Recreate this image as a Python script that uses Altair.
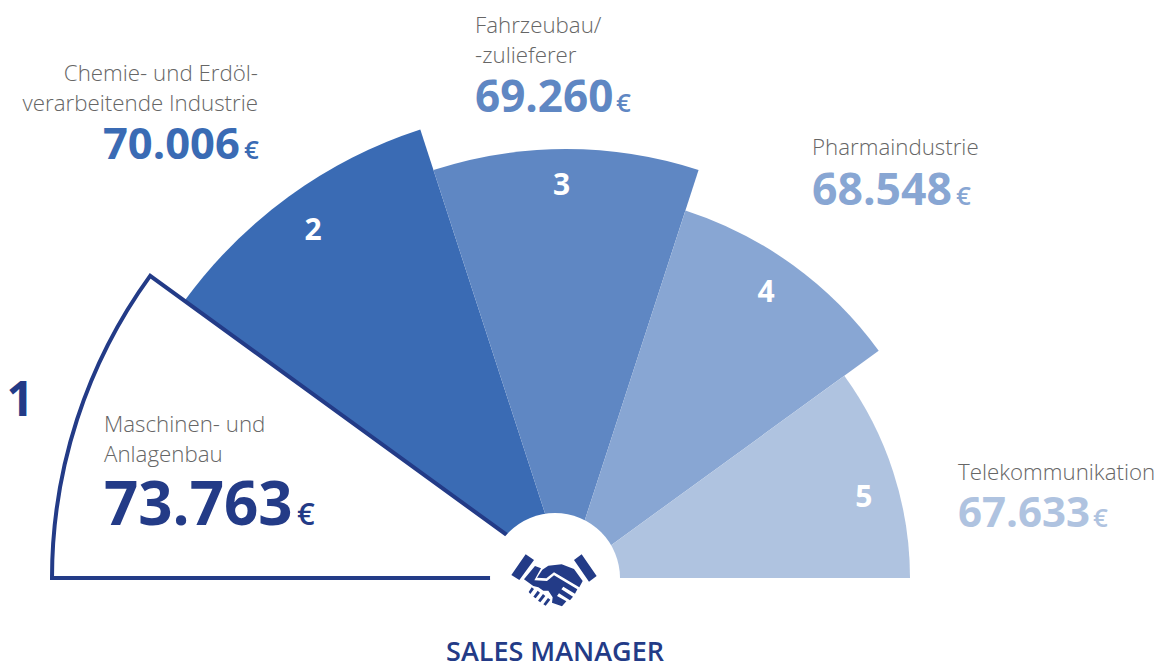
import math
import altair as alt
import pandas as pd

ranks = [1, 2, 3, 4, 5]
values = [73763, 70006, 69260, 68548, 67633]
starts = [-90, -54, -18, 18, 54]
ends = [-54, -18, 18, 54, 90]
names = [["Maschinen- und", "Anlagenbau"],
         ["Chemie- und Erdöl-", "verarbeitende Industrie"],
         ["Fahrzeubau/", "-zulieferer"],
         ["Pharmaindustrie"],
         ["Telekommunikation"]]
footer = "SALES MANAGER"
colors = ["#233b87", "#3a6bb4", "#5f87c3", "#88a6d3", "#afc3e0"]
GRAY = "#666666"
FONT = "Open Sans"

df = pd.DataFrame({"rank": ranks, "value": values, "start": starts, "end": ends})

# page px -> plot px
def px(v):
    return v - 8

CX, CY = px(566), px(578)
theta_scale = alt.Scale(type="linear", domain=[-90, 90], range=[-math.pi / 2, math.pi / 2])
radius_scale = alt.Scale(type="linear", domain=[1, 5], range=[514, 344])
color_scale = alt.Scale(domain=ranks, range=colors)

def arc_enc():
    return dict(
        x=alt.value(CX), y=alt.value(CY),
        theta=alt.Theta("start:Q", scale=theta_scale),
        theta2=alt.Theta2("end:Q"),
        radius=alt.Radius("rank:Q", scale=radius_scale),
        radius2=alt.value(0),
    )

wedges = alt.Chart(df[df["rank"] > 1]).mark_arc().encode(
    fill=alt.Fill("rank:O", scale=color_scale, legend=None), **arc_enc())
first = alt.Chart(df[df["rank"] == 1]).mark_arc(
    fill="white", stroke=colors[0], strokeWidth=4, strokeJoin="miter", strokeMiterLimit=10
).encode(**arc_enc())

disc = alt.Chart(pd.DataFrame({"a": [0]})).mark_arc(
    fill="white", radius=65, radius2=0, theta=0, theta2=2 * math.pi
).encode(x=alt.value(px(555)), y=alt.value(CY))

# icon traced in local units
icon_polys = [
    [(137, 163), (162, 180), (118, 240), (94, 225)],
    [(305, 163), (282, 180), (327, 245), (350, 228)],
    [(205, 197), (245, 193), (282, 207), (308, 243), (298, 262), (222, 217), (199, 235), (171, 233), (187, 209)],
    [(165, 198), (183, 205), (163, 241), (201, 243), (222, 226), (292, 268), (285, 281), (250, 260), (244, 268),
     (279, 290), (270, 301), (237, 280), (231, 288), (259, 304), (246, 319), (216, 308), (218, 292), (205, 272),
     (190, 272), (175, 262), (160, 258), (132, 238)],
    [(155, 262), (146, 276), (151, 282), (162, 267)],
    [(173, 272), (160, 290), (167, 295), (180, 278)],
    [(189, 282), (174, 302), (181, 307), (196, 288)],
    [(204, 294), (190, 313), (197, 317), (211, 299)],
]
ICON_C = (222, 240)
ICON_U = 129
icon_path = " ".join(
    "M" + " L".join(f"{(x - ICON_C[0]) / ICON_U:.3f},{(y - ICON_C[1]) / ICON_U:.3f}" for x, y in poly) + " Z"
    for poly in icon_polys
)
icon = alt.Chart(pd.DataFrame({"a": [0]})).mark_point(
    shape=icon_path, filled=True, fill=colors[0], opacity=1, size=(2 * 43) ** 2
).encode(x=alt.value(px(554)), y=alt.value(px(580)))

def text(s, x, y, size, color, weight="normal", align="left"):
    return alt.Chart(pd.DataFrame({"t": [s]})).mark_text(
        font=FONT, fontSize=size, fontWeight=weight, color=color, align=align, baseline="alphabetic"
    ).encode(x=alt.value(px(x)), y=alt.value(px(y)), text="t:N")

# rank numbers, placed by angle and radius round the fan's centre
num_theta = [-72, -36, -0.8, 34.8, 74.6]
num_radius = [575, 432, 394, 349, 308]
num_size = [48, 30, 30, 30, 30]
num_color = [colors[0], "white", "white", "white", "white"]
num_layers = []
for i, r in enumerate(ranks):
    row = pd.DataFrame({"rank": [r], "a": [num_theta[i]]})
    num_layers.append(
        alt.Chart(row).mark_text(
            font=FONT, fontSize=num_size[i], fontWeight="bold", color=num_color[i], align="center", baseline="middle"
        ).encode(
            x=alt.value(CX + 1), y=alt.value(CY + 2),
            theta=alt.Theta("a:Q", scale=theta_scale),
            radius=alt.value(num_radius[i]),
            text="rank:N",
        )
    )

fmt = lambda v: f"{v:,}".replace(",", ".")

label_lines = [[(104, 432), (104, 462)], [(258, 81), (258, 111)], [(475, 33), (475, 63)], [(812, 155)], [(958, 480)]]
label_align = ["left", "right", "left", "left", "left"]
val_pos = [(104, 525), (103, 159), (475, 112), (812, 205), (958, 527)]
val_size = [60, 43.5, 44, 44.5, 42]
euro_x = [297, 244, 616, 956, 1093]
euro_size = [31, 26, 26, 26, 26]

labels = []
for i in range(5):
    for line, (x, y) in zip(names[i], label_lines[i]):
        labels.append(text(line, x, y, 22.3, GRAY, weight=300, align=label_align[i]))
    labels.append(text(fmt(values[i]), val_pos[i][0], val_pos[i][1], val_size[i], colors[i], weight="bold"))
    labels.append(text("€", euro_x[i], val_pos[i][1], euro_size[i], colors[i], weight=600))

labels.append(text(footer, 555, 661, 27, colors[0], weight=600, align="center"))

chart = alt.layer(wedges, first, disc, icon, *num_layers, *labels).properties(
    width=1154, height=656, padding=0, autosize=alt.AutoSizeParams(type="none")
).configure(background="white", view=alt.ViewConfig(stroke=None))

chart.save("out.html", embed_options={"renderer": "svg", "actions": False})
